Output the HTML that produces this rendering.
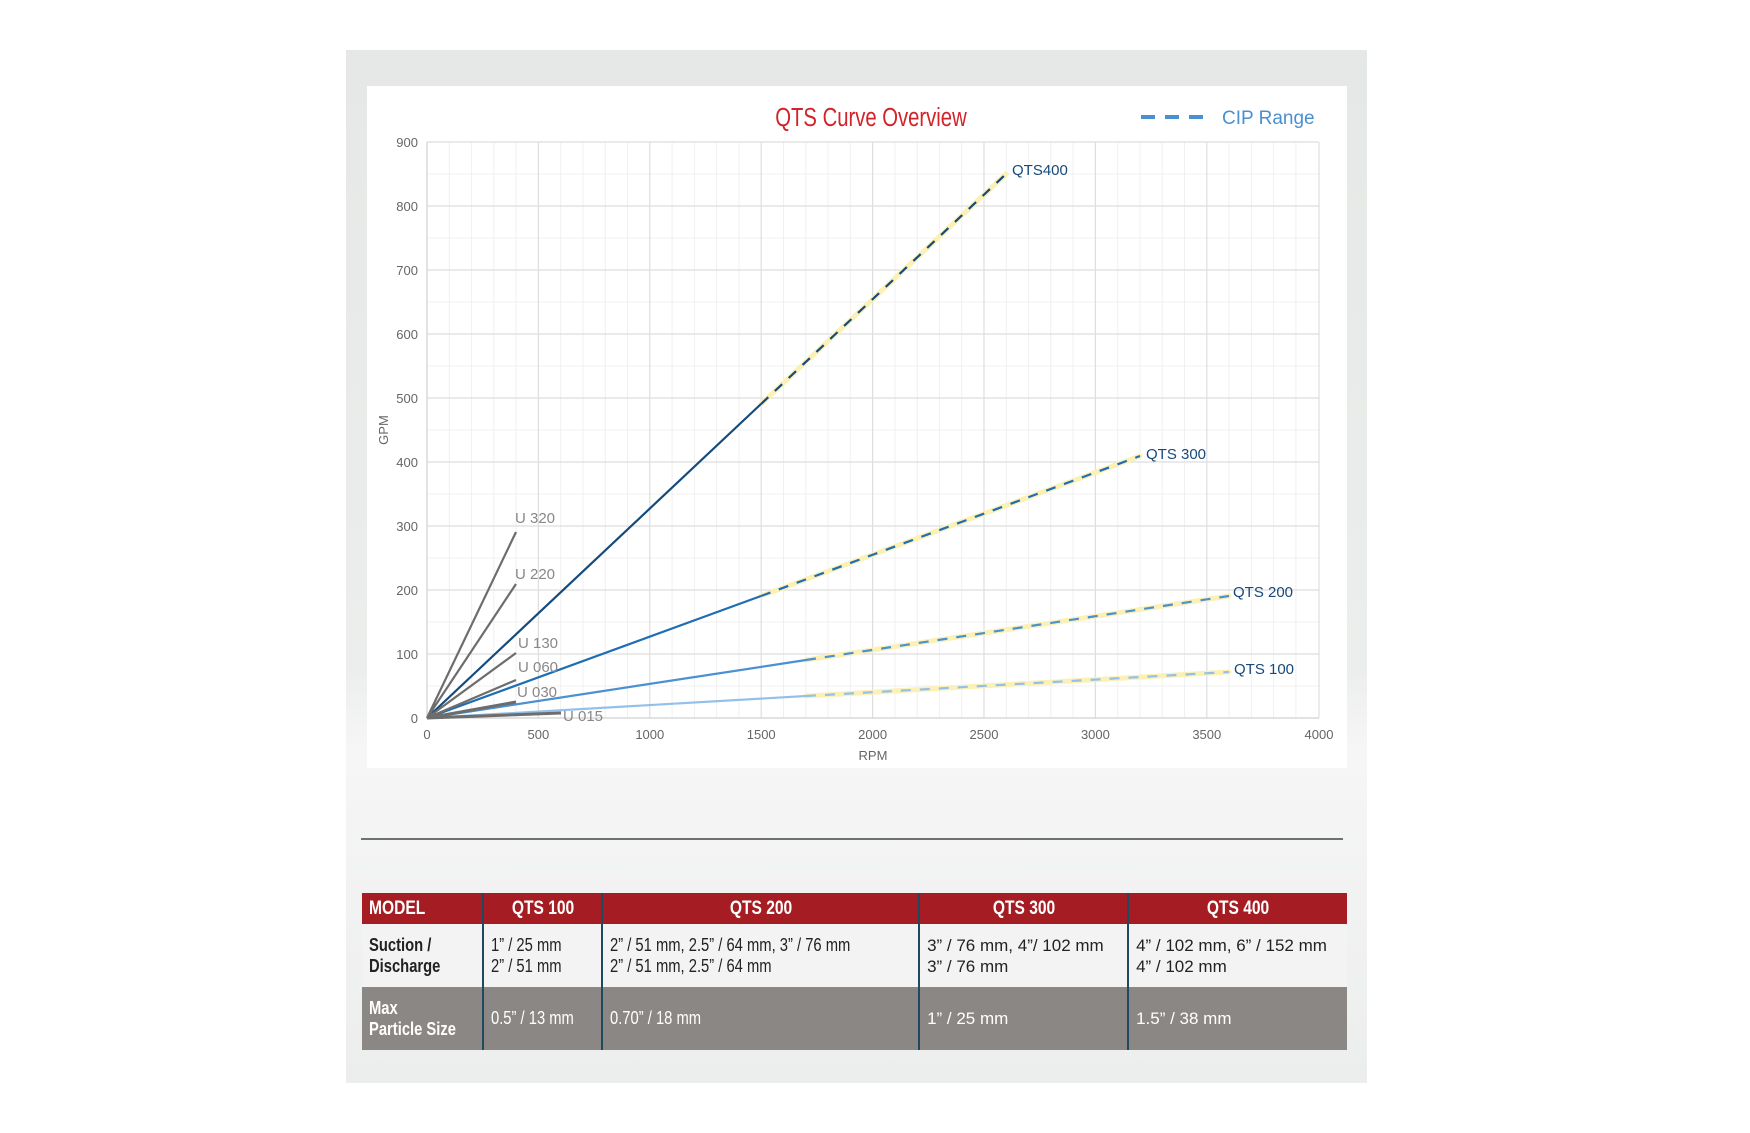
<!DOCTYPE html>
<html><head><meta charset="utf-8"><style>
html,body{margin:0;padding:0;background:#fff;}
body{width:1750px;height:1133px;position:relative;overflow:hidden;font-family:"Liberation Sans",sans-serif;}
#panel{position:absolute;left:346px;top:50px;width:1021px;height:1033px;background:linear-gradient(180deg,#e6e8e7 0%,#eceeed 60%,#f6f6f6 68%,#eceded 100%);}
#chart{position:absolute;left:367px;top:86px;width:980px;height:682px;background:#fff;}
svg{position:absolute;left:0;top:0;}
table{position:absolute;left:362px;top:893px;width:985px;border-collapse:collapse;font-family:"Liberation Sans",sans-serif;font-size:17px;}
td{border-left:2px solid #1d4a5e;padding:0 7px;vertical-align:middle;white-space:nowrap;}
td:first-child{border-left:none;}
.n{display:inline-block;transform:scaleX(0.82);transform-origin:left center;font-size:18px;}
tr.h td{background:#a51d23;color:#fff;font-weight:bold;height:31px;text-align:center;font-size:18px;}
tr.h td .n{transform-origin:center center;font-size:19px;}
tr.h td:first-child{text-align:left;}
tr.h td:first-child .n{transform-origin:left center;}
tr.s td{background:#f3f3f3;color:#222;height:63px;line-height:21px;}
tr.s td:first-child{font-weight:bold;}
tr.m td{background:#8b8784;color:#fff;height:63px;line-height:21px;}
tr.m td:first-child{font-weight:bold;}
.w{font-size:17px;}
</style></head><body>
<div id="panel"></div>
<div id="chart"></div>
<svg width="1750" height="1133" xmlns="http://www.w3.org/2000/svg">
<g stroke="#f0f0f0" stroke-width="1">
<path d="M449.3 142V718M471.6 142V718M493.8 142V718M516.1 142V718M560.7 142V718M583 142V718M605.2 142V718M627.5 142V718M672.1 142V718M694.4 142V718M716.6 142V718M738.9 142V718M783.5 142V718M805.8 142V718M828 142V718M850.3 142V718M894.9 142V718M917.2 142V718M939.4 142V718M961.7 142V718M1006.3 142V718M1028.6 142V718M1050.8 142V718M1073.1 142V718M1117.7 142V718M1140 142V718M1162.2 142V718M1184.5 142V718M1229.1 142V718M1251.4 142V718M1273.6 142V718M1295.9 142V718"/>
<path d="M427 174H1319M427 238H1319M427 302H1319M427 366H1319M427 430H1319M427 494H1319M427 558H1319M427 622H1319M427 686H1319"/>
</g>
<g stroke="#dedede" stroke-width="1.2">
<path d="M538.4 142V718M649.8 142V718M761.2 142V718M872.6 142V718M984 142V718M1095.4 142V718M1206.8 142V718M1319 142V718"/>
<path d="M427 142H1319M427 206H1319M427 270H1319M427 334H1319M427 398H1319M427 462H1319M427 526H1319M427 590H1319M427 654H1319"/>
</g>
<path d="M427 142V718H1319" stroke="#d0d0d0" stroke-width="1.2" fill="none"/>
<g font-size="13" fill="#666" text-anchor="end">
<text x="418" y="147">900</text><text x="418" y="211">800</text><text x="418" y="275">700</text><text x="418" y="339">600</text><text x="418" y="403">500</text><text x="418" y="467">400</text><text x="418" y="531">300</text><text x="418" y="595">200</text><text x="418" y="659">100</text><text x="418" y="723">0</text>
</g>
<g font-size="13" fill="#666" text-anchor="middle">
<text x="427" y="739">0</text><text x="538.4" y="739">500</text><text x="649.8" y="739">1000</text><text x="761.2" y="739">1500</text><text x="872.6" y="739">2000</text><text x="984" y="739">2500</text><text x="1095.4" y="739">3000</text><text x="1206.8" y="739">3500</text><text x="1319" y="739">4000</text>
<text x="873" y="760">RPM</text>
<text transform="translate(388,430) rotate(-90)">GPM</text>
</g>
<text transform="translate(871,126) scale(0.78,1)" text-anchor="middle" font-size="26" fill="#d2232a">QTS Curve Overview</text>
<path d="M1141 117H1213" stroke="#4a90d0" stroke-width="4" stroke-dasharray="14 10"/>
<text x="1222" y="124" font-size="19" fill="#4a90d0">CIP Range</text>
<g stroke="#fbf0b5" stroke-width="5" stroke-linecap="round">
<path d="M761 404L1006 174"/><path d="M761 596L1140 456"/><path d="M806 660L1229 596"/><path d="M806 696L1229 672"/>
</g>
<g fill="none" stroke-width="2.2">
<path d="M427 718L761 404" stroke="#144a7c"/><path d="M761 404L1006 174" stroke="#144a7c" stroke-dasharray="10 9"/>
<path d="M427 718L761 596" stroke="#1f6db2"/><path d="M761 596L1140 456" stroke="#1f6db2" stroke-dasharray="10 9"/>
<path d="M427 718L806 660" stroke="#4a90d2"/><path d="M806 660L1229 596" stroke="#4a90d2" stroke-dasharray="10 9"/>
<path d="M427 718L806 696" stroke="#93c0ea"/><path d="M806 696L1229 672" stroke="#93c0ea" stroke-dasharray="10 9"/>
</g>
<g stroke="#6d6d6d" stroke-width="2.2">
<path d="M427 718L516 532M427 718L516 584M427 718L516 653M427 718L516 680"/>
<path d="M427 718L516 702M427 718L561 713" stroke-width="3"/>
</g>
<g font-size="15" fill="#888">
<text x="515" y="523">U 320</text><text x="515" y="579">U 220</text><text x="518" y="648">U 130</text><text x="518" y="672">U 060</text><text x="517" y="697">U 030</text><text x="563" y="721">U 015</text>
</g>
<g font-size="15" fill="#16487a">
<text x="1012" y="175">QTS400</text><text x="1146" y="459">QTS 300</text><text x="1233" y="597">QTS 200</text><text x="1234" y="674">QTS 100</text>
</g>
<path d="M361 839H1343" stroke="#444" stroke-width="1.5"/>
</svg>
<table>
<tr class="h"><td style="width:104px"><span class="n">MODEL</span></td><td style="width:103px"><span class="n">QTS 100</span></td><td style="width:301px"><span class="n">QTS 200</span></td><td style="width:193px"><span class="n">QTS 300</span></td><td><span class="n">QTS 400</span></td></tr>
<tr class="s"><td><span class="n">Suction /<br>Discharge</span></td><td><span class="n">1” / 25 mm<br>2” / 51 mm</span></td><td><span class="n">2” / 51 mm, 2.5” / 64 mm, 3” / 76 mm<br>2” / 51 mm, 2.5” / 64 mm</span></td><td class="w">3” / 76 mm, 4”/ 102 mm<br>3” / 76 mm</td><td class="w">4” / 102 mm, 6” / 152 mm<br>4” / 102 mm</td></tr>
<tr class="m"><td><span class="n">Max<br>Particle Size</span></td><td><span class="n">0.5” / 13 mm</span></td><td><span class="n">0.70” / 18 mm</span></td><td class="w">1” / 25 mm</td><td class="w">1.5” / 38 mm</td></tr>
</table>
</body></html>
